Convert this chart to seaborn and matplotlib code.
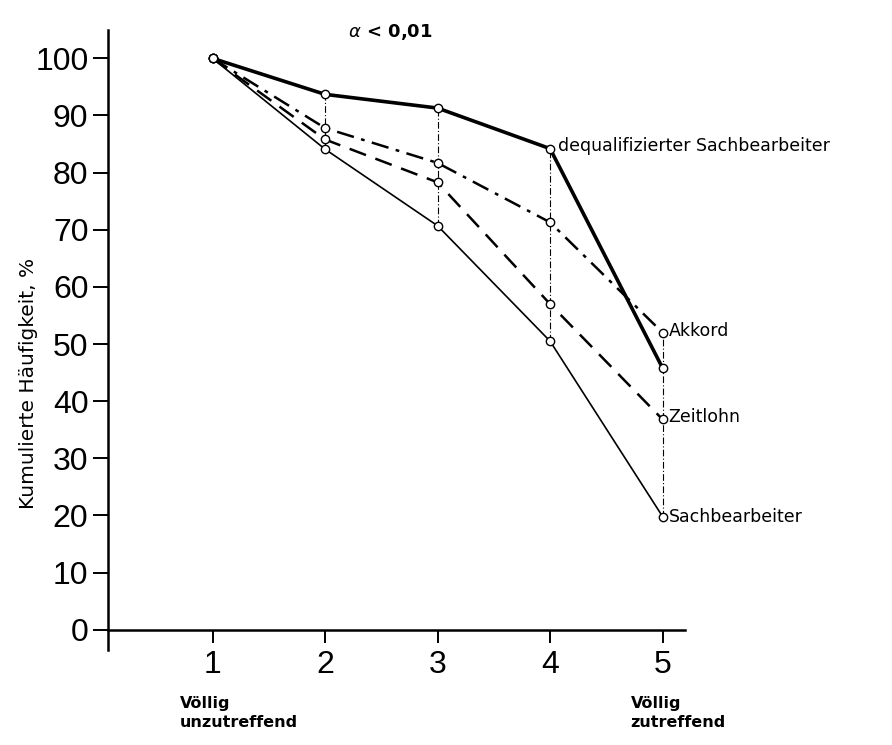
import pandas as pd
import matplotlib.pyplot as plt
import seaborn as sns

# Werte
stufen = [1, 2, 3, 4, 5]
dequalifiziert = [100, 93.7, 91.3, 84.2, 45.8]
akkord = [100, 87.8, 81.7, 71.3, 52.0]
zeitlohn = [100, 85.8, 78.3, 57.0, 36.8]
sachbearbeiter = [100, 84.1, 70.7, 50.5, 19.8]
tick_werte_y = [0, 10, 20, 30, 40, 50, 60, 70, 80, 90, 100]

sns.set_style('white')
plt.rcParams['font.family'] = ['DejaVu Sans']
plt.rcParams['text.color'] = 'black'
plt.rcParams['axes.labelcolor'] = 'black'
plt.rcParams['xtick.color'] = 'black'
plt.rcParams['ytick.color'] = 'black'
plt.rcParams['axes.edgecolor'] = 'black'

fig = plt.figure(figsize=(8.92, 7.45), dpi=100)
ax = fig.add_axes([0.121, 0.128, 0.647, 0.832])

reihen = [
    (dequalifiziert, '-', 2.6),
    (akkord, (0, (7, 3, 1.5, 3)), 1.8),
    (zeitlohn, (0, (7, 4)), 1.8),
    (sachbearbeiter, '-', 1.2),
]

# senkrechte Verbindungslinien zwischen den Kurven
for i, x in enumerate(stufen[1:], start=1):
    werte = [dequalifiziert[i], akkord[i], zeitlohn[i], sachbearbeiter[i]]
    ax.vlines(x, min(werte), max(werte), colors='black', linewidth=0.8,
              linestyles=(0, (6, 2, 1, 2)), zorder=1)

for werte, ls, lw in reihen:
    sns.lineplot(x=stufen, y=werte, ax=ax, color='black', linestyle=ls,
                 linewidth=lw, marker='o', markersize=6,
                 markerfacecolor='white', markeredgecolor='black',
                 markeredgewidth=1.0, zorder=3)

# Beschriftungen der Kurven
ax.annotate('dequalifizierter Sachbearbeiter', xy=(4, dequalifiziert[3]),
            xytext=(8, 3), textcoords='offset pixels', fontsize=12.5,
            va='center', ha='left')
ax.annotate('Akkord', xy=(5, akkord[4]), xytext=(6, 2),
            textcoords='offset pixels', fontsize=12.5, va='center')
ax.annotate('Zeitlohn', xy=(5, zeitlohn[4]), xytext=(6, 2),
            textcoords='offset pixels', fontsize=12.5, va='center')
ax.annotate('Sachbearbeiter', xy=(5, sachbearbeiter[4]), xytext=(6, 0),
            textcoords='offset pixels', fontsize=12.5, va='center')

ax.text(0.49, 0.997, r'$\alpha$ < 0,01', transform=ax.transAxes,
        ha='center', va='center', fontsize=13, fontweight='bold')

# Achsen
ax.set_xlim(0.07, 5.2)
ax.set_ylim(-3.5, 105)
ax.spines['top'].set_visible(False)
ax.spines['right'].set_visible(False)
ax.spines['bottom'].set_position(('data', 0))
for s in ['left', 'bottom']:
    ax.spines[s].set_linewidth(1.8)

ax.set_xticks(stufen)
ax.set_xticklabels([str(s) for s in stufen], fontsize=23,
                   family='Liberation Sans')
ax.set_yticks(tick_werte_y)
ax.set_yticklabels([str(v) for v in tick_werte_y], fontsize=23,
                   family='Liberation Sans')
ax.tick_params(axis='y', direction='out', length=11, width=1.4, pad=3, left=True)
ax.tick_params(axis='x', direction='out', length=9, width=1.4, pad=6, bottom=True)

ax.set_xlabel('')
ax.set_ylabel('Kumulierte Häufigkeit, %', fontsize=14.5)
ax.yaxis.set_label_coords(-0.122, 0.43)

ax.annotate('Völlig\nunzutreffend', xy=(1, 0), xycoords=('data', 'axes fraction'),
            xytext=(-33, -46), textcoords='offset pixels', ha='left', va='top',
            fontsize=11.5, fontweight='bold', linespacing=1.35)
ax.annotate('Völlig\nzutreffend', xy=(5, 0), xycoords=('data', 'axes fraction'),
            xytext=(-32, -46), textcoords='offset pixels', ha='left', va='top',
            fontsize=11.5, fontweight='bold', linespacing=1.35)

ax.grid(False)
fig.savefig('out.png', dpi=100, facecolor='white')
